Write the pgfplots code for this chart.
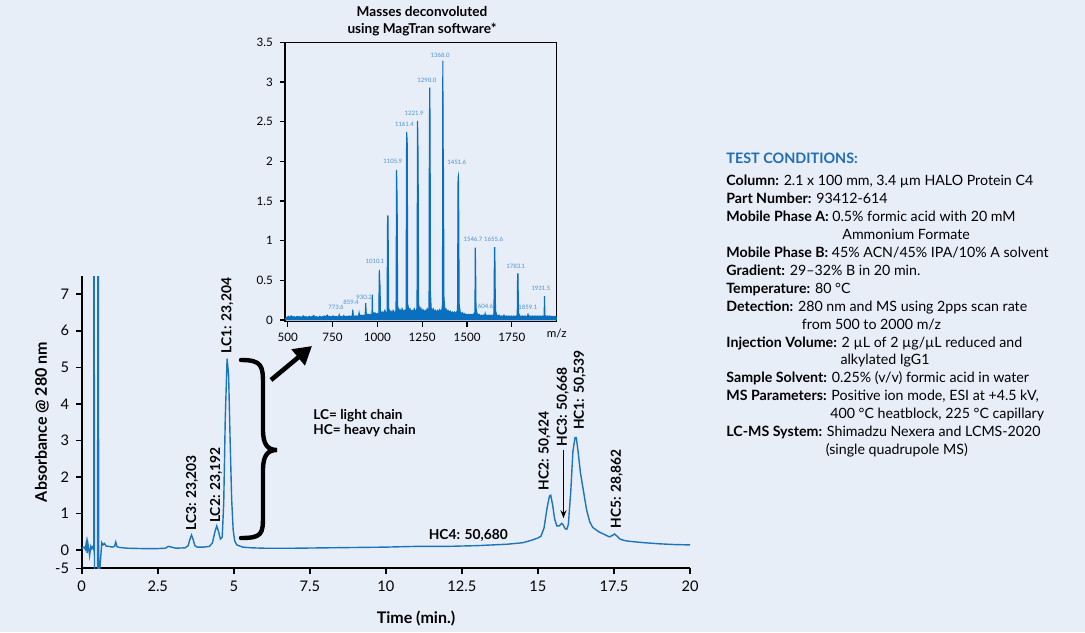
\documentclass[border=0pt]{standalone}
\usepackage{fontspec}
\setmainfont{Lato}
\usepackage{pgfplots}
\pgfplotsset{compat=1.18}
\usetikzlibrary{arrows.meta}
\definecolor{bg}{HTML}{E8EEF8}
\definecolor{trace}{HTML}{1C75BC}
\definecolor{spec}{HTML}{0B6FC0}
\definecolor{speclab}{HTML}{4A8FD2}
\definecolor{condblue}{HTML}{1F6DB5}
% test conditions: one line = one node, positions in reference pixels
\newcommand\tc[3]{\node[anchor=base west,inner sep=0pt,font=\fontsize{7.1}{8}\selectfont] at (726,#1) {\textbf{#2} #3};}
\newcommand\tcc[4]{\node[anchor=base west,inner sep=0pt,font=\fontsize{7.1}{8}\selectfont] at (726,#1) {\hphantom{\textbf{#2}\ }\hspace{#3}#4};}
\newcommand\pk[3]{\node[speclab,inner sep=0pt,font=\fontsize{3}{3.5}\selectfont] at (axis cs:#1,#2) {#3};}
\newcommand\rlab[3]{\node[rotate=90,anchor=west,inner sep=0pt,font=\bfseries\fontsize{6.9}{8}\selectfont] at (axis cs:#1,#2) {#3};}

\begin{document}
\begin{tikzpicture}
\fill[bg] (0,0) rectangle (542.5pt,316pt);
\useasboundingbox (0,0) rectangle (542.5pt,316pt);

% chromatogram
\begin{axis}[
    at={(40.85pt,31.85pt)}, anchor=south west,
    scale only axis, width=304.15pt, height=146.15pt,
    xmin=0, xmax=20, ymin=-0.5, ymax=7.5,
    axis x line*=bottom, axis y line*=left,
    xtick={0,2.5,5,7.5,10,12.5,15,17.5,20},
    xticklabels={0,2.5,5,7.5,10,12.5,15,17.5,20},
    ytick={-0.5,0,1,2,3,4,5,6,7},
    yticklabels={-5,0,1,2,3,4,5,6,7},
    tick align=outside, major tick length=2.8pt,
    axis line style={line width=1pt,black},
    tick style={line width=0.8pt,black},
    ticklabel style={font=\fontsize{7.3}{8}\selectfont},
    /pgf/number format/assume math mode=true,
]
\addplot[trace, line width=0.7pt] coordinates {
(0.00,0.05) (0.08,0.08) (0.12,0.02) (0.15,0.20) (0.18,-0.08) (0.20,0.20) (0.23,0.05) (0.26,-0.15)
(0.30,0.10) (0.33,0.04) (0.37,0.10) (0.395,0.02) (0.40,9) (0.41,9) (0.42,-1) (0.52,-1)
(0.535,9) (0.545,9) (0.56,-1) (0.58,-0.7) (0.66,0.20) (0.70,0.14) (0.75,0.18) (0.80,0.11)
(0.90,0.10) (1.00,0.08) (1.08,0.10) (1.12,0.22) (1.16,0.09) (1.25,0.07) (1.50,0.05) (2.00,0.04)
(2.50,0.04) (2.75,0.05) (2.85,0.10) (2.95,0.08) (3.10,0.05) (3.40,0.06) (3.50,0.12) (3.56,0.30)
(3.61,0.41) (3.66,0.30) (3.72,0.12) (3.80,0.08) (4.00,0.08) (4.20,0.10) (4.30,0.20) (4.38,0.50)
(4.44,0.66) (4.50,0.50) (4.56,0.30) (4.62,0.35) (4.67,1.30) (4.72,3.60) (4.78,5.24) (4.83,4.80)
(4.88,3.00) (4.93,1.40) (4.98,0.55) (5.03,0.25) (5.10,0.14) (5.30,0.08) (5.60,0.06) (6.00,0.05)
(7.00,0.05) (8.00,0.06) (9.00,0.07) (10.00,0.08) (11.00,0.10) (12.00,0.10) (13.00,0.12) (13.50,0.14)
(14.00,0.16) (14.50,0.20) (14.80,0.27) (15.00,0.33) (15.10,0.38) (15.20,0.60) (15.30,1.15) (15.38,1.48)
(15.42,1.50) (15.48,1.25) (15.55,0.85) (15.62,0.66) (15.70,0.66) (15.78,0.73) (15.82,0.70) (15.90,0.58)
(15.95,0.57) (16.00,0.70) (16.08,1.60) (16.15,2.70) (16.22,3.08) (16.26,3.08) (16.32,2.70) (16.40,2.10)
(16.50,1.60) (16.60,1.10) (16.70,0.78) (16.80,0.62) (17.00,0.50) (17.20,0.42) (17.35,0.36) (17.45,0.40)
(17.52,0.44) (17.60,0.38) (17.70,0.30) (17.85,0.26) (18.00,0.24) (18.50,0.20) (19.00,0.17) (19.50,0.15)
(20.00,0.14)};
\rlab{4.79}{5.38}{LC1: 23,204}
\rlab{4.42}{0.73}{LC2: 23,192}
\rlab{3.63}{0.52}{LC3: 23,203}
\rlab{15.22}{1.62}{HC2: 50,424}
\rlab{15.82}{2.83}{HC3: 50,668}
\rlab{16.38}{3.28}{HC1: 50,539}
\rlab{17.59}{0.59}{HC5: 28,862}
\node[anchor=base,inner sep=0pt,font=\bfseries\fontsize{6.9}{8}\selectfont] at (axis cs:12.71,0.29) {HC4: 50,680};
\draw[-{Stealth[length=4pt,width=3pt]},line width=0.6pt] (axis cs:15.84,2.74) -- (axis cs:15.84,0.87);
\end{axis}

% deconvoluted mass spectrum inset
\begin{axis}[
    at={(142.5pt,155.25pt)}, anchor=south west,
    scale only axis, width=135.85pt, height=139.6pt,
    xmin=485, xmax=2000, ymin=-0.02, ymax=3.5,
    xtick={500,750,1000,1250,1500,1750},
    xticklabels={500,750,1000,1250,1500,1750},
    extra x ticks={2000}, extra x tick labels={m/z},
    extra x tick style={major tick length=0pt},
    ytick={0,0.5,1,1.5,2,2.5,3,3.5},
    yticklabels={0,0.5,1,1.5,2,2.5,3,3.5},
    tick pos=left, tick align=outside, major tick length=2.5pt,
    axis line style={line width=0.7pt,black},
    tick style={line width=0.6pt,black},
    ticklabel style={font=\fontsize{5.8}{6.5}\selectfont},
    /pgf/number format/assume math mode=true,
]
\addplot[spec, fill=spec, line width=0.55pt] coordinates {
(485,0.02) (495,0.03) (505,0.045) (512,0.03) (520,0.05) (528,0.035) (537,0.04) (545,0.03)
(553,0.045) (562,0.035) (570,0.04) (578,0.03) (587,0.05) (595,0.035) (603,0.04) (612,0.03)
(620,0.045) (628,0.035) (637,0.04) (645,0.055) (653,0.035) (662,0.04) (670,0.03) (678,0.045)
(687,0.035) (695,0.04) (703,0.05) (712,0.035) (720,0.06) (728,0.04) (737,0.045) (745,0.035)
(753,0.05) (762,0.04) (770,0.045) (778,0.035) (784,0.04) (787,0.065) (790,0.04) (798,0.045)
(806,0.035) (812,0.055) (818,0.04) (826,0.045) (834,0.04) (842,0.05) (850,0.04) (857,0.05)
(860,0.04) (863,0.13) (866,0.05) (872,0.045) (880,0.05) (888,0.045) (895,0.05) (898,0.09)
(901,0.05) (908,0.06) (915,0.05) (922,0.06) (929,0.05) (932,0.06) (935,0.21) (938,0.08)
(944,0.06) (950,0.07) (956,0.06) (962,0.07) (968,0.06) (970,0.08) (972,0.32) (974,0.10)
(980,0.07) (986,0.09) (992,0.07) (998,0.08) (1004,0.07) (1008,0.09) (1011,0.63) (1013,0.50)
(1015,0.42) (1017,0.12) (1023,0.08) (1030,0.10) (1036,0.08) (1042,0.12) (1048,0.08) (1054,0.10)
(1057,1.31) (1059,1.31) (1061,0.88) (1063,0.15) (1070,0.09) (1076,0.11) (1082,0.08) (1088,0.12)
(1094,0.09) (1100,0.10) (1104,0.12) (1107,1.89) (1109,1.68) (1111,1.25) (1113,0.18) (1120,0.10)
(1126,0.13) (1132,0.09) (1138,0.14) (1144,0.10) (1150,0.12) (1156,0.10) (1160,0.14) (1163,2.37)
(1165,2.30) (1167,2.20) (1169,0.20) (1176,0.12) (1182,0.14) (1188,0.10) (1194,0.12) (1200,0.10)
(1206,0.14) (1212,0.11) (1218,0.12) (1221,0.15) (1224,2.51) (1226,2.30) (1228,1.60) (1230,0.20)
(1236,0.12) (1242,0.15) (1248,0.10) (1254,0.13) (1260,0.10) (1266,0.12) (1272,0.10) (1278,0.14)
(1284,0.11) (1288,0.15) (1290,2.37) (1292,2.93) (1294,2.50) (1296,0.35) (1300,0.15) (1306,0.11)
(1312,0.14) (1318,0.10) (1324,0.12) (1330,0.09) (1336,0.12) (1342,0.10) (1348,0.13) (1354,0.10)
(1360,0.13) (1363,0.20) (1365,3.27) (1367,2.17) (1369,1.83) (1371,0.30) (1376,0.12) (1382,0.14)
(1388,0.10) (1394,0.12) (1400,0.09) (1406,0.11) (1412,0.08) (1418,0.10) (1424,0.08) (1430,0.10)
(1436,0.08) (1442,0.10) (1447,0.12) (1450,1.80) (1452,1.82) (1454,1.25) (1456,0.20) (1462,0.10)
(1468,0.08) (1474,0.09) (1480,0.07) (1486,0.08) (1492,0.06) (1498,0.07) (1504,0.06) (1510,0.07)
(1516,0.06) (1522,0.07) (1528,0.06) (1534,0.07) (1540,0.08) (1544,0.10) (1546,0.91) (1548,0.63)
(1550,0.15) (1556,0.08) (1562,0.06) (1568,0.07) (1574,0.05) (1580,0.06) (1586,0.05) (1592,0.06)
(1598,0.05) (1601,0.08) (1604,0.05) (1610,0.06) (1616,0.05) (1622,0.06) (1628,0.05) (1634,0.06)
(1640,0.05) (1646,0.06) (1650,0.08) (1653,0.91) (1655,0.91) (1657,0.40) (1659,0.12) (1665,0.06)
(1672,0.05) (1679,0.06) (1686,0.04) (1693,0.05) (1700,0.04) (1706,0.06) (1712,0.04) (1719,0.05)
(1726,0.04) (1733,0.05) (1740,0.04) (1747,0.05) (1754,0.04) (1761,0.05) (1768,0.04) (1775,0.05)
(1780,0.06) (1782,0.58) (1784,0.58) (1786,0.25) (1788,0.08) (1795,0.05) (1802,0.04) (1809,0.05)
(1816,0.04) (1823,0.05) (1830,0.04) (1837,0.05) (1840,0.07) (1843,0.04) (1850,0.05) (1857,0.04)
(1864,0.05) (1871,0.04) (1878,0.05) (1885,0.04) (1892,0.05) (1899,0.04) (1906,0.05) (1913,0.04)
(1920,0.05) (1927,0.04) (1930,0.05) (1932,0.30) (1934,0.06) (1940,0.04) (1947,0.05) (1954,0.04)
(1961,0.05) (1968,0.04) (1975,0.045) (1982,0.04) (1990,0.045) (2000,0.04)} \closedcycle;
\pk{1350}{3.34}{1368.0}
\pk{1276}{3.02}{1290.0}
\pk{1205}{2.61}{1221.9}
\pk{1151}{2.47}{1161.4}
\pk{1086}{2.00}{1105.9}
\pk{1443}{1.98}{1451.6}
\pk{987}{0.735}{1010.1}
\pk{926}{0.28}{930.2}
\pk{853}{0.22}{859.4}
\pk{769.5}{0.155}{773.6}
\pk{1533}{1.01}{1546.7}
\pk{1648}{1.01}{1655.6}
\pk{1772}{0.67}{1783.1}
\pk{1912}{0.395}{1931.5}
\pk{1603}{0.168}{604.6}
\pk{1839}{0.155}{1859.1}
\end{axis}

\begin{scope}[x=0.5pt,y=-0.5pt,shift={(0pt,316pt)}]
% brace
\draw[line width=2.2pt,line cap=round]
    (241,360) .. controls (262,360) and (263,366) .. (263,384) -- (263,430)
    .. controls (263,445) and (268,450) .. (277,450)
    .. controls (268,450) and (263,455) .. (263,470) -- (263,516)
    .. controls (263,534) and (262,538) .. (241,538);
\node[font=\bfseries\fontsize{6.8}{8}\selectfont,anchor=base,inner sep=0pt] at (422,16.7) {Masses deconvoluted};
\node[font=\bfseries\fontsize{6.8}{8}\selectfont,anchor=base,inner sep=0pt] at (422,33.3) {using MagTran software*};
\node[font=\bfseries\fontsize{8}{9}\selectfont,rotate=90,inner sep=0pt] at (42,422) {Absorbance @ 280 nm};
\node[font=\bfseries\fontsize{8}{9}\selectfont,inner sep=0pt] at (416,618) {Time (min.)};
\node[anchor=base west,inner sep=0pt,font=\bfseries\fontsize{6.8}{8}\selectfont] at (313,419) {LC= light chain};
\node[anchor=base west,inner sep=0pt,font=\bfseries\fontsize{6.8}{8}\selectfont] at (313,434.7) {HC= heavy chain};
\draw[line width=2.3pt,-{Triangle[length=9pt,width=10pt]}] (271,380) -- (312,346);

\node[anchor=base west,inner sep=0pt,text=condblue,font=\bfseries\fontsize{7.2}{8}\selectfont] at (726,164) {TEST CONDITIONS:};
\tc{186.0}{Column:}{2.1 x 100 mm, 3.4 µm HALO Protein C4}
\tc{203.9}{Part Number:}{93412-614}
\tc{221.8}{Mobile Phase A:}{0.5\% formic acid with 20 mM}
\tcc{239.7}{Mobile Phase A:}{5pt}{Ammonium Formate}
\tc{257.6}{Mobile Phase B:}{45\% ACN/45\% IPA/10\% A solvent}
\tc{275.5}{Gradient:}{29–32\% B in 20 min.}
\tc{293.4}{Temperature:}{80 °C}
\tc{311.3}{Detection:}{280 nm and MS using 2pps scan rate}
\tcc{329.2}{Detection:}{2.5pt}{from 500 to 2000 m/z}
\tc{347.1}{Injection Volume:}{2 µL of 2 µg/µL reduced and}
\tcc{365.0}{Injection Volume:}{0pt}{alkylated IgG1}
\tc{382.9}{Sample Solvent:}{0.25\% (v/v) formic acid in water}
\tc{400.8}{MS Parameters:}{Positive ion mode, ESI at +4.5 kV,}
\tcc{418.7}{MS Parameters:}{0pt}{400 °C heatblock, 225 °C capillary}
\tc{436.6}{LC-MS System:}{Shimadzu Nexera and LCMS-2020}
\tcc{454.5}{LC-MS System:}{0pt}{(single quadrupole MS)}
\end{scope}
\end{tikzpicture}
\end{document}
